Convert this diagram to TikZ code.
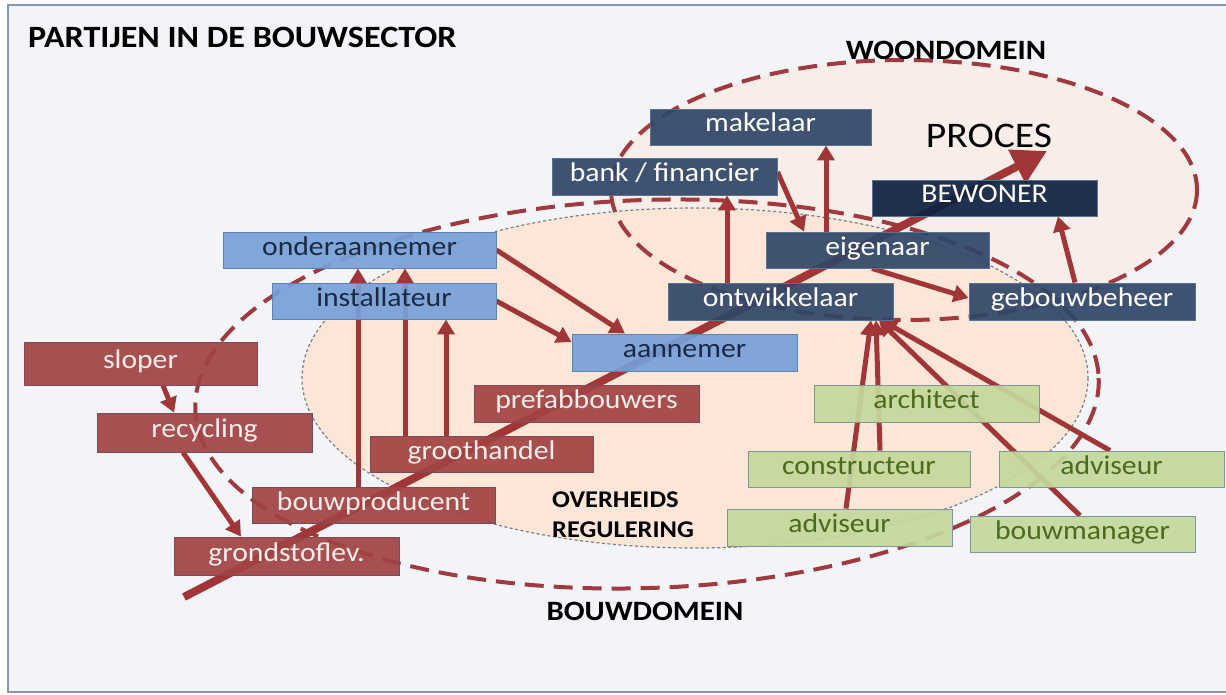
\documentclass[tikz,border=0pt]{standalone}
\usepackage{fontspec}
\setmainfont{Carlito}[FakeStretch=1.1]
\usetikzlibrary{arrows.meta}
\pgfdeclarelayer{back}
\pgfdeclarelayer{mid}
\pgfsetlayers{back,mid,main}
\definecolor{bgc}{HTML}{F2F4F7}
\definecolor{framec}{HTML}{8796AA}
\definecolor{navy}{HTML}{2F4668}
\definecolor{navyb}{HTML}{5A7291}
\definecolor{navyd}{HTML}{0E2242}
\definecolor{lblue}{HTML}{77A0D8}
\definecolor{lblueb}{HTML}{5A83BA}
\definecolor{lbluetext}{HTML}{1B2A44}
\definecolor{redbox}{HTML}{A14343}
\definecolor{redboxb}{HTML}{7E4A58}
\definecolor{redtext}{HTML}{FBEDEA}
\definecolor{greenbox}{HTML}{C4D89B}
\definecolor{greenboxb}{HTML}{7E95A0}
\definecolor{greentext}{HTML}{4C6A1F}
\definecolor{arrc}{HTML}{A23636}
\definecolor{dashc}{HTML}{A03A3E}
\definecolor{peach}{HTML}{FCE6D8}
\definecolor{peachl}{HTML}{F8EDE8}
\definecolor{thinc}{HTML}{7B7F88}
\begin{document}
\begin{tikzpicture}[x=1pt,y=-1pt,
  bx/.style={minimum height=36pt, inner sep=0pt, line width=0.9pt, text height=16pt, text depth=6pt, font=\fontsize{27}{27}\selectfont, fill opacity=0.92, text opacity=1},
  nv/.style={bx, fill=navy, draw=navyb, text=white},
  nvd/.style={bx, fill=navyd, draw=navyb, text=white},
  lb/.style={bx, fill=lblue, draw=lblueb, text=lbluetext},
  rd/.style={bx, fill=redbox, draw=redboxb, text=redtext},
  gr/.style={bx, fill=greenbox, draw=greenboxb, text=greentext},
  arr/.style={draw=arrc, line width=5pt, -{Triangle[length=15pt,width=17pt]}},
  bigarr/.style={draw=arrc, line width=8pt, -{Triangle[length=34pt,width=36pt]}},
  domainline/.style={draw=dashc, line width=4pt, dash pattern=on 19pt off 10pt},
  lbl/.style={inner sep=0pt, text=black}
]
\useasboundingbox (0,0) rectangle (1226,695);
\begin{pgfonlayer}{back}
\fill[white] (0,0) rectangle (1226,695);
\draw[fill=bgc, draw=framec, line width=1.2pt] (8,5) rectangle (1240,692);
% domain fills and outlines
\fill[peachl] (904,190) ellipse [x radius=293, y radius=130];
\fill[peach] (695,378) ellipse [x radius=393, y radius=170];
\draw[thinc, line width=1.2pt, dash pattern=on 3pt off 2.5pt] (695,378) ellipse [x radius=393, y radius=170];
\draw[domainline] (904,190) ellipse [x radius=293, y radius=130];
\draw[domainline, rotate around={2:(647,394)}] (647,394) ellipse [x radius=452, y radius=194];
% process arrow
\coordinate (ptail) at (184,597);
\coordinate (phead) at (1047,151);
\draw[bigarr] (ptail) -- (phead);
\end{pgfonlayer}

% labels
\node[lbl, anchor=base west, font=\bfseries\fontsize{31}{31}\selectfont] (title) at (28,48) {PARTIJEN IN DE BOUWSECTOR};
\node[lbl, anchor=base, font=\bfseries\fontsize{28}{28}\selectfont] (woon) at (946,60) {WOONDOMEIN};
\node[lbl, anchor=base, font=\fontsize{36}{36}\selectfont] (proces) at (989,148) {PROCES};
\node[lbl, anchor=base, font=\bfseries\fontsize{28}{28}\selectfont] (bouw) at (645,620) {BOUWDOMEIN};
\node[lbl, anchor=base west, font=\bfseries\fontsize{24}{24}\selectfont] (ovh1) at (552,507) {OVERHEIDS};
\node[lbl, anchor=base west, font=\bfseries\fontsize{24}{24}\selectfont] (ovh2) at (552,537) {REGULERING};

% boxes
\node[nv, minimum width=221pt] (mak) at (760.5,127) {makelaar};
\node[nv, minimum width=225pt, minimum height=37pt] (bank) at (664.5,176.5) {bank / financier};
\node[nvd, minimum width=225pt] (bew) at (984.5,198) {BEWONER};
\node[nv, minimum width=223pt] (eig) at (877.5,250) {eigenaar};
\node[nv, minimum width=225pt, minimum height=37pt] (ont) at (780.5,301.5) {ontwikkelaar};
\node[nv, minimum width=226pt, minimum height=37pt] (geb) at (1082,301.5) {gebouwbeheer};
\node[lb, minimum width=273pt] (ond) at (359.5,250) {onderaannemer};
\node[lb, minimum width=224pt] (ins) at (384,301) {installateur};
\node[lb, minimum width=225pt, minimum height=37pt] (aan) at (684.5,352.5) {aannemer};
\node[rd, minimum width=233pt, minimum height=43pt] (slo) at (140.5,363.5) {sloper};
\node[rd, minimum width=215pt, minimum height=39pt] (rec) at (204.5,432.5) {recycling};
\node[rd, minimum width=225pt, minimum height=37pt] (pre) at (586.5,403.5) {prefabbouwers};
\node[rd, minimum width=223pt] (grh) at (481.5,454) {groothandel};
\node[rd, minimum width=243pt] (bpr) at (373.5,505) {bouwproducent};
\node[rd, minimum width=225pt, minimum height=38pt] (grd) at (286.5,556) {grondstoflev.};
\node[gr, minimum width=225pt, minimum height=37pt] (arc) at (926.5,403.5) {architect};
\node[gr, minimum width=222pt] (con) at (859,469) {constructeur};
\node[gr, minimum width=225pt] (advr) at (1111.5,469) {adviseur};
\node[gr, minimum width=225pt, minimum height=37pt] (advl) at (839.5,527.5) {adviseur};
\node[gr, minimum width=225pt] (bman) at (1082.5,534) {bouwmanager};

% connectors (below the boxes)
\begin{pgfonlayer}{mid}
\draw[arr] (slo.south -| 163,0) -- (rec.north -| 174,0);
\draw[arr] (rec.south -| 183,0) -- (grd.north -| 241,0);
\draw[arr] (bpr.north -| 358,0) -- (ond.south -| 358,0);
\draw[arr] (grh.north -| 405,0) -- (ond.south -| 405,0);
\draw[arr] (grh.north -| 446,0) -- (ins.south -| 446,0);
\draw[arr] (ond.east) -- (aan.north -| 625,0);
\draw[arr] (ins.east) -- (aan.west |- 0,342);
\draw[arr] (ont.north -| 727,0) -- (bank.south -| 727,0);
\draw[arr] (bank.east |- 0,172) -- (eig.north -| 804,0);
\draw[arr] (eig.north -| 826,0) -- (mak.south -| 826,0);
\draw[arr] (eig.south -| 872,0) -- (geb.west |- 0,298);
\draw[arr] (geb.north -| 1075,0) -- (bew.south -| 1058,0);
\draw[arr] (advl.north -| 846,0) -- (ont.south -| 871,0);
\draw[arr] (con.north -| 880,0) -- (ont.south -| 876,0);
\draw[arr] (bman.north -| 1080,0) -- (ont.south -| 879,0);
\draw[arr] (advr.north -| 1110,0) -- (ont.south -| 882,0);
\end{pgfonlayer}
\end{tikzpicture}
\end{document}
